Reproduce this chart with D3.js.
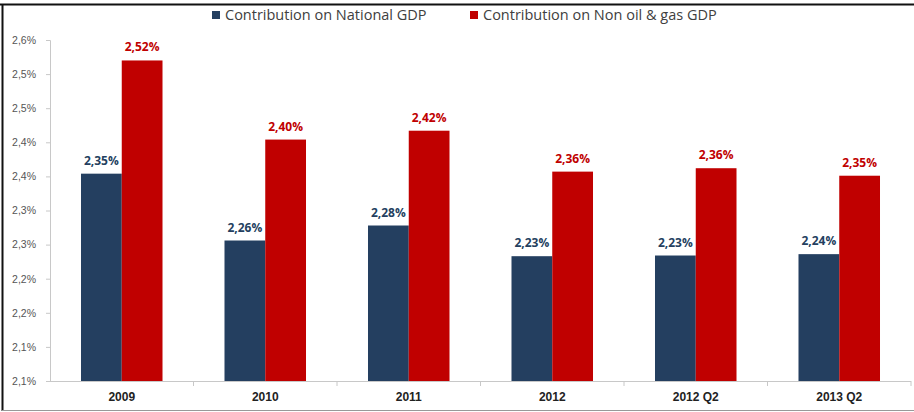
<!DOCTYPE html>
<html>
<head>
<meta charset="utf-8">
<script src="https://cdn.jsdelivr.net/npm/d3@7"></script>
<style>
  body { margin: 0; background: #fff; }
  svg { display: block; font-family: "Open Sans", "Liberation Sans", sans-serif; }
</style>
</head>
<body>
<div id="chart"></div>
<script>
// data
var categories = ["2009", "2010", "2011", "2012", "2012 Q2", "2013 Q2"];
var seriesNames = ["Contribution on National GDP", "Contribution on Non oil & gas GDP"];
var nationalGdp = [2.354, 2.256, 2.278, 2.233, 2.234, 2.236];
var nonOilGasGdp = [2.520, 2.404, 2.417, 2.357, 2.362, 2.351];
var tickValues = [2.05, 2.10, 2.15, 2.20, 2.25, 2.30, 2.35, 2.40, 2.45, 2.50, 2.55];
var tickLabels = ["2,1%", "2,1%", "2,2%", "2,2%", "2,3%", "2,3%", "2,4%", "2,4%", "2,5%", "2,5%", "2,6%"];

var colors = ["#243F60", "#C00000"];
var labelColors = ["#243F60", "#C00000"];

var width = 914, height = 412;
var margin = { top: 40, right: 3, bottom: 31, left: 50 };
var innerW = width - margin.left - margin.right;
var innerH = height - margin.top - margin.bottom;

var svg = d3.select("#chart")
    .append("svg")
    .attr("width", width)
    .attr("height", height);

// frame lines
svg.append("line").attr("x1", 0).attr("x2", width).attr("y1", 4.5).attr("y2", 4.5)
    .attr("stroke", "#111").attr("stroke-width", 2);
svg.append("line").attr("x1", 2.5).attr("x2", 2.5).attr("y1", 4).attr("y2", 411)
    .attr("stroke", "#111").attr("stroke-width", 2);
svg.append("line").attr("x1", 2).attr("x2", width).attr("y1", 410.5).attr("y2", 410.5)
    .attr("stroke", "#999").attr("stroke-width", 1);

var g = svg.append("g")
    .attr("transform", "translate(" + margin.left + "," + margin.top + ")");

var x0 = d3.scaleBand()
    .domain(categories)
    .range([0, innerW])
    .paddingInner(0)
    .paddingOuter(0);

var x1 = d3.scaleBand()
    .domain([0, 1])
    .range([x0.bandwidth() * 0.216, x0.bandwidth() * 0.784]);

var y = d3.scaleLinear()
    .domain([2.05, 2.55])
    .range([innerH, 0]);

// y axis
var yAxis = g.append("g")
    .call(d3.axisLeft(y)
        .tickValues(tickValues)
        .tickSize(4)
        .tickPadding(10)
        .tickFormat(function(d, i) { return tickLabels[i]; }));
yAxis.select("path.domain").attr("stroke", "#c8c8c8").attr("d", "M-4,0.5H0.5V" + innerH);
yAxis.selectAll(".tick line").attr("stroke", "#c8c8c8");
yAxis.selectAll(".tick text")
    .attr("fill", "#555")
    .style("font-size", "10.5px")
    .style("font-family", "Liberation Sans, sans-serif");

// bars
var seriesData = [nationalGdp, nonOilGasGdp];
var groups = g.selectAll(".group")
    .data(categories)
    .enter()
    .append("g")
    .attr("class", "group")
    .attr("transform", function(d) { return "translate(" + x0(d) + ",0)"; });

groups.selectAll("rect")
    .data(function(d, i) { return [0, 1].map(function(s) { return { s: s, v: seriesData[s][i] }; }); })
    .enter()
    .append("rect")
    .attr("x", function(d) { return x1(d.s); })
    .attr("width", x1.bandwidth())
    .attr("y", function(d) { return y(d.v); })
    .attr("height", function(d) { return innerH - y(d.v); })
    .attr("fill", function(d) { return colors[d.s]; });

var fmt = d3.format(".2f");
groups.selectAll(".bar-label")
    .data(function(d, i) { return [0, 1].map(function(s) { return { s: s, v: seriesData[s][i] }; }); })
    .enter()
    .append("text")
    .attr("class", "bar-label")
    .attr("x", function(d) { return x1(d.s) + x1.bandwidth() / 2; })
    .attr("y", function(d) { return y(d.v) - 9; })
    .attr("text-anchor", "middle")
    .attr("fill", function(d) { return labelColors[d.s]; })
    .style("font-size", "12px")
    .style("font-weight", "bold")
    .text(function(d) { return fmt(d.v).replace(".", ",") + "%"; });

// x axis
var xAxis = g.append("g")
    .attr("transform", "translate(0," + innerH + ")")
    .call(d3.axisBottom(x0).tickSize(0).tickPadding(11));
xAxis.select("path.domain").attr("stroke", "#c8c8c8").attr("d", "M0,0.5H" + innerW);
xAxis.selectAll(".tick text")
    .attr("fill", "#222")
    .style("font-size", "12px")
    .style("font-weight", "bold");

// separators between categories
g.append("g")
    .selectAll("line")
    .data(categories.slice(1).concat(["end"]))
    .enter()
    .append("line")
    .attr("x1", function(d, i) { return x0.step() * (i + 1); })
    .attr("x2", function(d, i) { return x0.step() * (i + 1); })
    .attr("y1", innerH)
    .attr("y2", innerH + 5)
    .attr("stroke", "#c8c8c8");

// legend
var legendX = [212, 470];
var legend = svg.selectAll(".legend")
    .data(seriesNames)
    .enter()
    .append("g")
    .attr("class", "legend")
    .attr("transform", function(d, i) { return "translate(" + legendX[i] + ",11)"; });
legend.append("rect")
    .attr("width", 8)
    .attr("height", 8)
    .attr("fill", function(d, i) { return colors[i]; });
legend.append("text")
    .attr("x", 13)
    .attr("y", 9)
    .attr("fill", "#404040")
    .style("font-size", "14.5px")
    .text(function(d) { return d; });
</script>
</body>
</html>
